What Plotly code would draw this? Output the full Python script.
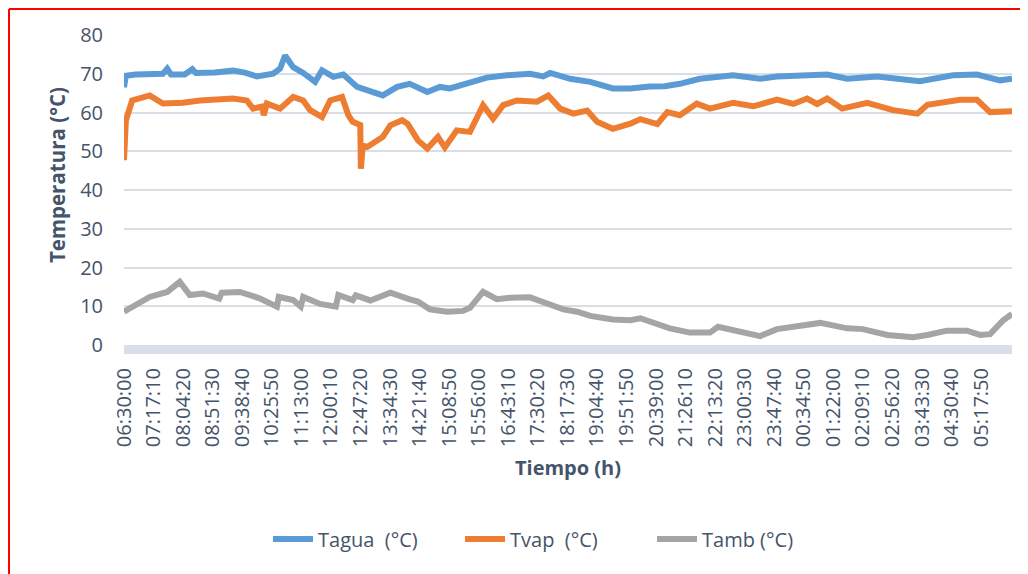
import plotly.graph_objects as go

# minutes elapsed since 06:30:00 and temperature read for each series
tagua_min = [0, 3, 18, 41, 62, 69, 75, 97, 109, 115, 145, 174, 193, 212, 238, 249, 257, 270,
             286, 305, 316, 334, 350, 372, 397, 413, 436, 456, 484, 504, 520, 552, 579, 611,
             648, 669, 680, 712, 744, 780, 808, 839, 863, 887, 919, 972, 1015, 1042, 1122,
             1154, 1202, 1270, 1323, 1361, 1398, 1417]
tagua = [66.5, 69.5, 69.8, 69.8, 70.0, 71.3, 69.8, 69.8, 71.2, 70.2, 70.3, 70.8, 70.3, 69.3,
         70.0, 71.3, 74.7, 71.7, 70.2, 67.9, 70.9, 69.2, 69.8, 66.6, 65.3, 64.4, 66.6, 67.4,
         65.3, 66.6, 66.2, 67.9, 69.0, 69.6, 70.0, 69.3, 70.2, 68.7, 67.9, 66.2, 66.2, 66.7,
         66.8, 67.4, 68.7, 69.6, 68.7, 69.3, 69.8, 68.7, 69.3, 68.1, 69.6, 69.8, 68.3, 68.7]

tvap_min = [0, 3, 13, 41, 62, 94, 121, 174, 196, 206, 220, 223, 228, 249, 270, 286, 297, 316,
            329, 348, 358, 365, 377, 378, 381, 388, 413, 425, 444, 453, 469, 484, 501, 512,
            531, 552, 573, 589, 605, 627, 659, 677, 696, 717, 739, 755, 780, 808, 824, 851,
            867, 887, 914, 935, 972, 1004, 1042, 1068, 1090, 1106, 1122, 1146, 1186, 1227,
            1266, 1282, 1334, 1361, 1382, 1417]
tvap = [47.7, 58.0, 63.1, 64.4, 62.3, 62.5, 63.1, 63.6, 63.1, 61.0, 61.5, 59.3, 62.3, 61.0,
        64.0, 63.1, 60.6, 58.8, 63.1, 64.0, 59.3, 57.6, 56.8, 45.5, 51.5, 51.1, 53.7, 56.7,
        58.0, 57.0, 52.8, 50.7, 53.7, 51.0, 55.4, 55.0, 61.9, 58.4, 61.9, 63.1, 62.8, 64.4,
        61.0, 59.7, 60.5, 57.6, 55.8, 57.1, 58.3, 57.0, 60.1, 59.3, 62.3, 61.0, 62.5, 61.6,
        63.3, 62.2, 63.6, 62.2, 63.6, 61.0, 62.5, 60.6, 59.7, 62.0, 63.3, 63.3, 60.1, 60.3]

tamb_min = [0, 41, 69, 89, 105, 126, 152, 156, 185, 217, 244, 247, 270, 282, 286, 313, 338,
            342, 365, 370, 393, 425, 456, 469, 488, 516, 541, 552, 573, 595, 616, 648, 675,
            701, 723, 744, 780, 808, 824, 851, 871, 903, 935, 948, 978, 1015, 1042, 1068,
            1111, 1154, 1179, 1218, 1259, 1282, 1313, 1345, 1366, 1382, 1403, 1417]
tamb = [8.6, 12.4, 13.7, 16.3, 12.9, 13.3, 12.0, 13.5, 13.7, 12.0, 9.9, 12.4, 11.6, 9.9, 12.4,
        10.6, 9.9, 12.9, 11.6, 12.8, 11.5, 13.5, 11.8, 11.2, 9.2, 8.6, 8.8, 9.6, 13.7, 11.8,
        12.2, 12.3, 10.7, 9.2, 8.6, 7.5, 6.6, 6.4, 6.9, 5.4, 4.3, 3.2, 3.2, 4.7, 3.5, 2.3,
        4.1, 4.7, 5.7, 4.3, 4.1, 2.6, 2.0, 2.6, 3.7, 3.7, 2.6, 2.8, 6.4, 8.0]

tick_labels = ["06:30:00", "07:17:10", "08:04:20", "08:51:30", "09:38:40", "10:25:50",
               "11:13:00", "12:00:10", "12:47:20", "13:34:30", "14:21:40", "15:08:50",
               "15:56:00", "16:43:10", "17:30:20", "18:17:30", "19:04:40", "19:51:50",
               "20:39:00", "21:26:10", "22:13:20", "23:00:30", "23:47:40", "00:34:50",
               "01:22:00", "02:09:10", "02:56:20", "03:43:30", "04:30:40", "05:17:50"]


def to_minutes(label, start="06:30:00"):
    h, m, s = (int(p) for p in label.split(":"))
    h0, m0, s0 = (int(p) for p in start.split(":"))
    sec = (h * 3600 + m * 60 + s) - (h0 * 3600 + m0 * 60 + s0)
    return (sec % 86400) / 60


tick_vals = [to_minutes(t) for t in tick_labels]

TEXT = "#44546A"
FONT = "Open Sans"

fig = go.Figure()
fig.add_trace(go.Scatter(x=tagua_min, y=tagua, name="Tagua  (°C)", mode="lines",
                         line=dict(color="#5B9BD5", width=6)))
fig.add_trace(go.Scatter(x=tvap_min, y=tvap, name="Tvap  (°C)", mode="lines",
                         line=dict(color="#ED7D31", width=6)))
fig.add_trace(go.Scatter(x=tamb_min, y=tamb, name="Tamb (°C)", mode="lines",
                         line=dict(color="#A5A5A5", width=6)))

fig.update_layout(
    width=1028, height=574,
    margin=dict(l=116, r=24, t=27, b=237),
    paper_bgcolor="white", plot_bgcolor="white",
    font=dict(family=FONT, size=20, color=TEXT),
    showlegend=True,
    legend=dict(orientation="h", x=0.4865, xanchor="center", y=-0.6255, yanchor="middle",
                font=dict(size=20, color=TEXT), itemwidth=40,
                entrywidth=137, entrywidthmode="pixels"),
    xaxis=dict(
        range=[0, 1417], tickmode="array", tickvals=tick_vals, ticktext=tick_labels,
        tickangle=-90, showgrid=False, zeroline=False,
        showline=True, linecolor="#D9DEE8", linewidth=9,
        ticks="", ticklabelstandoff=6,
        tickfont=dict(size=20, color=TEXT),
        title=dict(text="Tiempo (h)", font=dict(size=20, color=TEXT, weight=700), standoff=18),
    ),
    yaxis=dict(
        range=[0, 80], dtick=10, showgrid=True, gridcolor="#D9DEE6", gridwidth=2,
        zeroline=False, showline=False, ticks="", ticklabelstandoff=20,
        tickfont=dict(size=20, color=TEXT),
    ),
    annotations=[
        dict(text="Temperatura (°C)", textangle=-90, xref="paper", yref="paper",
             x=-0.0755, y=0.548, xanchor="center", yanchor="middle", showarrow=False,
             font=dict(size=20.5, color=TEXT, weight=700)),
    ],
    shapes=[
        dict(type="line", xref="paper", yref="paper", x0=-0.1295, x1=1.03, y0=1.0839, y1=1.0839,
             line=dict(color="#FF0000", width=2)),
        dict(type="line", xref="paper", yref="paper", x0=-0.1295, x1=-0.1295, y0=1.0839, y1=-0.78,
             line=dict(color="#FF0000", width=2)),
    ],
)

fig.write_html("out.html")
